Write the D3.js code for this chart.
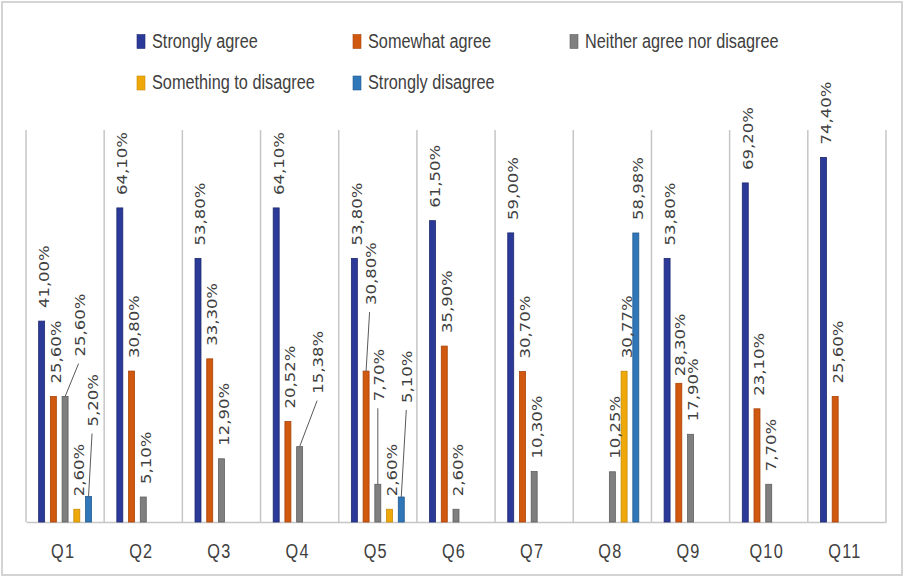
<!DOCTYPE html>
<html>
<head>
<meta charset="utf-8">
<script src="https://cdn.jsdelivr.net/npm/d3@7/dist/d3.min.js"></script>
<style>
  html, body { margin: 0; padding: 0; background: #fff; }
  svg { display: block; }
</style>
</head>
<body>
<svg id="chart" width="905" height="578"></svg>
<script>
// Survey answers per question, in percent (null = no answers in that group)
const categories = ["Q1", "Q2", "Q3", "Q4", "Q5", "Q6", "Q7", "Q8", "Q9", "Q10", "Q11"];
const seriesNames = ["Strongly agree", "Somewhat agree", "Neither agree nor disagree",
                     "Something to disagree", "Strongly disagree"];
const stronglyAgree     = [41.00, 64.10, 53.80, 64.10, 53.80, 61.50, 59.00, null, 53.80, 69.20, 74.40];
const somewhatAgree     = [25.60, 30.80, 33.30, 20.52, 30.80, 35.90, 30.70, null, 28.30, 23.10, 25.60];
const neitherAgree      = [25.60, 5.10, 12.90, 15.38, 7.70, 2.60, 10.30, 10.25, 17.90, 7.70, null];
const somethingDisagree = [2.60, null, null, null, 2.60, null, null, 30.77, null, null, null];
const stronglyDisagree  = [5.20, null, null, null, 5.10, null, null, 58.98, null, null, null];
const seriesValues = [stronglyAgree, somewhatAgree, neitherAgree, somethingDisagree, stronglyDisagree];

const colors  = ["#2b3a98", "#d0580f", "#7f7f7f", "#efa80a", "#2f77b8"];
const strokes = ["#1e2a70", "#a8440a", "#5f5f5f", "#c88a05", "#225a8c"];

// Labels that were dragged away from their bars (drawn with a leader line)
const labelMoves = {
  "Q1|2": { dx: 12, dy: -27 },
  "Q1|4": { dx: 2, dy: -57 },
  "Q4|2": { dx: 16, dy: -40 },
  "Q5|1": { dx: 2, dy: -53 },
  "Q5|2": { dx: -1.5, dy: -70 },
  "Q5|4": { dx: 3.5, dy: -81 },
  "Q9|1": { dx: -1.5, dy: 6, noLine: true }
};

const svg = d3.select("#chart");
const TEXT = "#404040";
const GRID = "#c6c6c6";
const SQUEEZE = 0.835; // horizontal squeeze applied to all text

// Outer frame
svg.append("rect")
  .attr("x", 2).attr("y", 2).attr("width", 900).attr("height", 573)
  .attr("fill", "none").attr("stroke", "#d4d4d4").attr("stroke-width", 2);

const plot = { left: 26, right: 886, top: 130, bottom: 522 };

const x = d3.scaleBand().domain(categories).range([plot.left, plot.right]).padding(0);
const y = d3.scaleLinear().domain([0, 80]).range([plot.bottom, plot.top]);
const xs = d3.scaleBand().domain(d3.range(seriesNames.length))
  .range([x.bandwidth() * 0.125, x.bandwidth() * 0.875]);
const barW = xs.bandwidth() * 0.51;

// Vertical separators between questions
const bounds = categories.map(c => x(c)).concat([plot.right]);
svg.append("g").selectAll("line").data(bounds).join("line")
  .attr("x1", d => d).attr("x2", d => d)
  .attr("y1", plot.top).attr("y2", plot.bottom)
  .attr("stroke", GRID).attr("stroke-width", 1.5);

// Category axis
const xAxis = d3.axisBottom(x).tickSize(0).tickPadding(0);
const gx = svg.append("g").attr("transform", `translate(0,${plot.bottom})`).call(xAxis);
gx.select(".domain").attr("stroke", GRID).attr("stroke-width", 1.5);
gx.selectAll(".tick text")
  .attr("fill", TEXT)
  .attr("font-family", "'Liberation Sans', Arial, sans-serif")
  .attr("font-size", 19.5)
  .attr("text-anchor", "middle")
  .attr("letter-spacing", 1.5)
  .attr("y", 0).attr("dy", 0)
  .attr("transform", d => `translate(-2,36) scale(${SQUEEZE},1)`)
  .attr("x", 0);
gx.selectAll(".tick").each(function (d) {
  const t = d3.select(this);
  const cx = x(d) + x.bandwidth() / 2;
  t.attr("transform", null);
  t.select("text").attr("transform", `translate(${cx - 2},36) scale(${SQUEEZE},1)`);
});

// Flatten into bar records
const bars = [];
categories.forEach((c, ci) => {
  seriesValues.forEach((vals, si) => {
    const v = vals[ci];
    if (v == null) return;
    bars.push({ cat: c, si, value: v });
  });
});
const barCx = d => x(d.cat) + xs(d.si) + xs.bandwidth() / 2;

svg.append("g").selectAll("rect").data(bars).join("rect")
  .attr("x", d => barCx(d) - barW / 2)
  .attr("y", d => y(d.value))
  .attr("width", barW)
  .attr("height", d => y(0) - y(d.value))
  .attr("fill", d => colors[d.si])
  .attr("stroke", d => strokes[d.si])
  .attr("stroke-width", 0.8);

// Value labels
const fmt = v => v.toFixed(2).replace(".", ",") + "%";
const labelPos = d => {
  const m = labelMoves[`${d.cat}|${d.si}`] || { dx: 0, dy: 0 };
  return { lx: barCx(d) + 2.5 + m.dx, ly: y(d.value) - 13 + m.dy, m };
};

const leaders = bars.filter(d => labelMoves[`${d.cat}|${d.si}`] && !labelMoves[`${d.cat}|${d.si}`].noLine);
svg.append("g").selectAll("line").data(leaders).join("line")
  .attr("x1", d => barCx(d)).attr("y1", d => y(d.value))
  .attr("x2", d => labelPos(d).lx - 1).attr("y2", d => labelPos(d).ly + 7)
  .attr("stroke", "#595959").attr("stroke-width", 1);

svg.append("g").selectAll("text").data(bars).join("text")
  .attr("transform", d => {
    const p = labelPos(d);
    return `translate(${p.lx},${p.ly}) scale(${SQUEEZE},1) rotate(-90)`;
  })
  .attr("dy", "0.36em")
  .attr("text-anchor", "start")
  .attr("font-family", "'DejaVu Sans', Verdana, sans-serif")
  .attr("font-size", 16.5)
  .attr("fill", TEXT)
  .text(d => fmt(d.value));

// Legend (two rows)
const legendPos = [
  { x: 137, y: 47.5 }, { x: 353, y: 47.5 }, { x: 570, y: 47.5 },
  { x: 137, y: 89 },   { x: 353, y: 89 }
];
const lg = svg.append("g").selectAll("g").data(seriesNames).join("g")
  .attr("transform", (d, i) => `translate(${legendPos[i].x},${legendPos[i].y})`);
lg.append("rect")
  .attr("x", 0).attr("y", -13).attr("width", 8).attr("height", 14)
  .attr("fill", (d, i) => colors[i]).attr("stroke", (d, i) => strokes[i]).attr("stroke-width", 0.6);
lg.append("text")
  .attr("transform", `translate(15,0) scale(${SQUEEZE},1)`)
  .attr("font-family", "'Liberation Sans', Arial, sans-serif")
  .attr("font-size", 19.5)
  .attr("fill", TEXT)
  .text(d => d);
</script>
</body>
</html>
